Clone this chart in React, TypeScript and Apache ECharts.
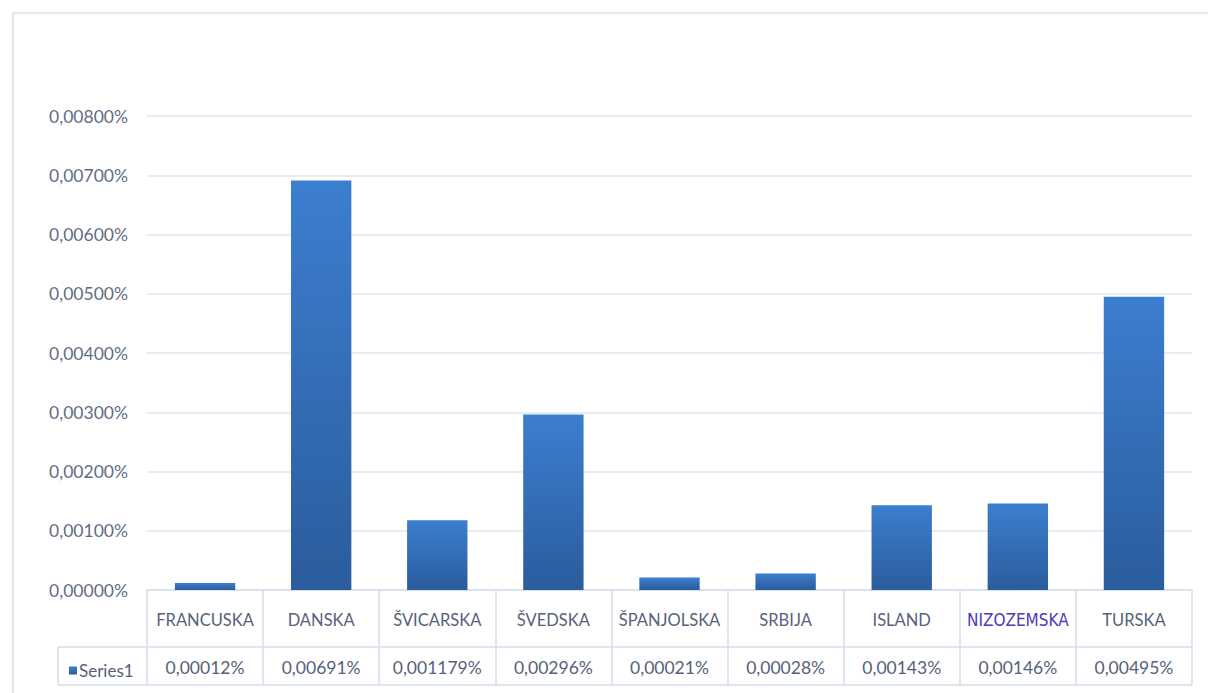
import React, { useEffect, useRef } from "react";
import * as echarts from "echarts";

const categories = ["FRANCUSKA", "DANSKA", "ŠVICARSKA", "ŠVEDSKA", "ŠPANJOLSKA", "SRBIJA", "ISLAND", "NIZOZEMSKA", "TURSKA"];
const values = [0.00012, 0.00691, 0.001179, 0.00296, 0.00021, 0.00028, 0.00143, 0.00146, 0.00495];
const seriesName = "Series1";
const yMin = 0;
const yMax = 0.008;
const yStep = 0.001;

const fmtValue = (v: number) => String(v).replace(".", ",") + "%";
const fmtTick = (v: number) => v.toFixed(5).replace(".", ",") + "%";

const FONT = "Lato, 'Open Sans', sans-serif";
const TEXT = "#56627a";
const BORDER = "#d5deea";

export default function App() {
  const ref = useRef<HTMLDivElement>(null);
  useEffect(() => {
    const chart = echarts.init(ref.current!, null, { renderer: "svg" });
    chart.setOption({
      animation: false,
      backgroundColor: "#ffffff",
      grid: { left: 147, right: 16, top: 116, bottom: 103, containLabel: false },
      legend: {
        show: true,
        data: [seriesName],
        left: 64,
        top: 657,
        icon: "rect",
        itemWidth: 8,
        itemHeight: 8,
        itemGap: 4,
        textStyle: { fontFamily: FONT, fontSize: 17, color: TEXT, padding: [0, 0, 0, -3] },
        selectedMode: false,
      },
      xAxis: [
        {
          type: "category",
          data: categories,
          boundaryGap: true,
          axisLine: { show: true, lineStyle: { color: BORDER, width: 1.5 } },
          axisTick: { show: true, length: 95, interval: 0, lineStyle: { color: BORDER, width: 1.5 } },
          axisLabel: {
            interval: 0,
            margin: 30,
            verticalAlign: "middle",
            fontFamily: FONT,
            fontSize: 16.5,
            color: TEXT,
            formatter: (v: string) => (v === "NIZOZEMSKA" ? "{p|" + v + "}" : v),
            rich: {
              p: {
                fontFamily: "'Liberation Sans Narrow', 'DejaVu Sans Condensed', 'Liberation Sans', sans-serif",
                fontSize: 17,
                color: "#4e3bb8",
              },
            },
          },
        },
        {
          type: "category",
          data: values.map(fmtValue),
          position: "bottom",
          offset: 57,
          boundaryGap: true,
          axisLine: { show: false },
          axisTick: { show: false },
          axisLabel: {
            interval: 0,
            margin: 20,
            verticalAlign: "middle",
            fontFamily: FONT,
            fontSize: 17.5,
            color: TEXT,
          },
        },
      ],
      yAxis: {
        type: "value",
        min: yMin,
        max: yMax,
        interval: yStep,
        axisLine: { show: false },
        axisTick: { show: false },
        splitLine: { show: true, lineStyle: { color: "#e1e7ef", width: 1.5 } },
        axisLabel: {
          margin: 19,
          fontFamily: FONT,
          fontSize: 17.5,
          color: "#5f6e85",
          formatter: fmtTick,
        },
      },
      series: [
        {
          name: seriesName,
          type: "bar",
          xAxisIndex: 0,
          data: values,
          barWidth: "52%",
          itemStyle: {
            color: new echarts.graphic.LinearGradient(0, 0, 0, 1, [
              { offset: 0, color: "#3c7ecf" },
              { offset: 1, color: "#2b5c9c" },
            ]),
          },
        },
      ],
      graphic: [
        {
          type: "rect",
          shape: { x: 13, y: 13, width: 1240, height: 720 },
          style: { fill: "none", stroke: "#e4e9f0", lineWidth: 2.5 },
          silent: true,
        },
        {
          type: "line",
          shape: { x1: 58, y1: 647, x2: 1192, y2: 647 },
          style: { stroke: BORDER, lineWidth: 1.5 },
          silent: true,
        },
        {
          type: "line",
          shape: { x1: 58, y1: 685, x2: 1192, y2: 685 },
          style: { stroke: BORDER, lineWidth: 1.5 },
          silent: true,
        },
        {
          type: "line",
          shape: { x1: 58, y1: 647, x2: 58, y2: 685 },
          style: { stroke: BORDER, lineWidth: 1.5 },
          silent: true,
        },
      ],
    });
    return () => chart.dispose();
  }, []);
  return <div ref={ref} style={{ position: "fixed", left: 0, top: 0, width: 1208, height: 693 }} />;
}
